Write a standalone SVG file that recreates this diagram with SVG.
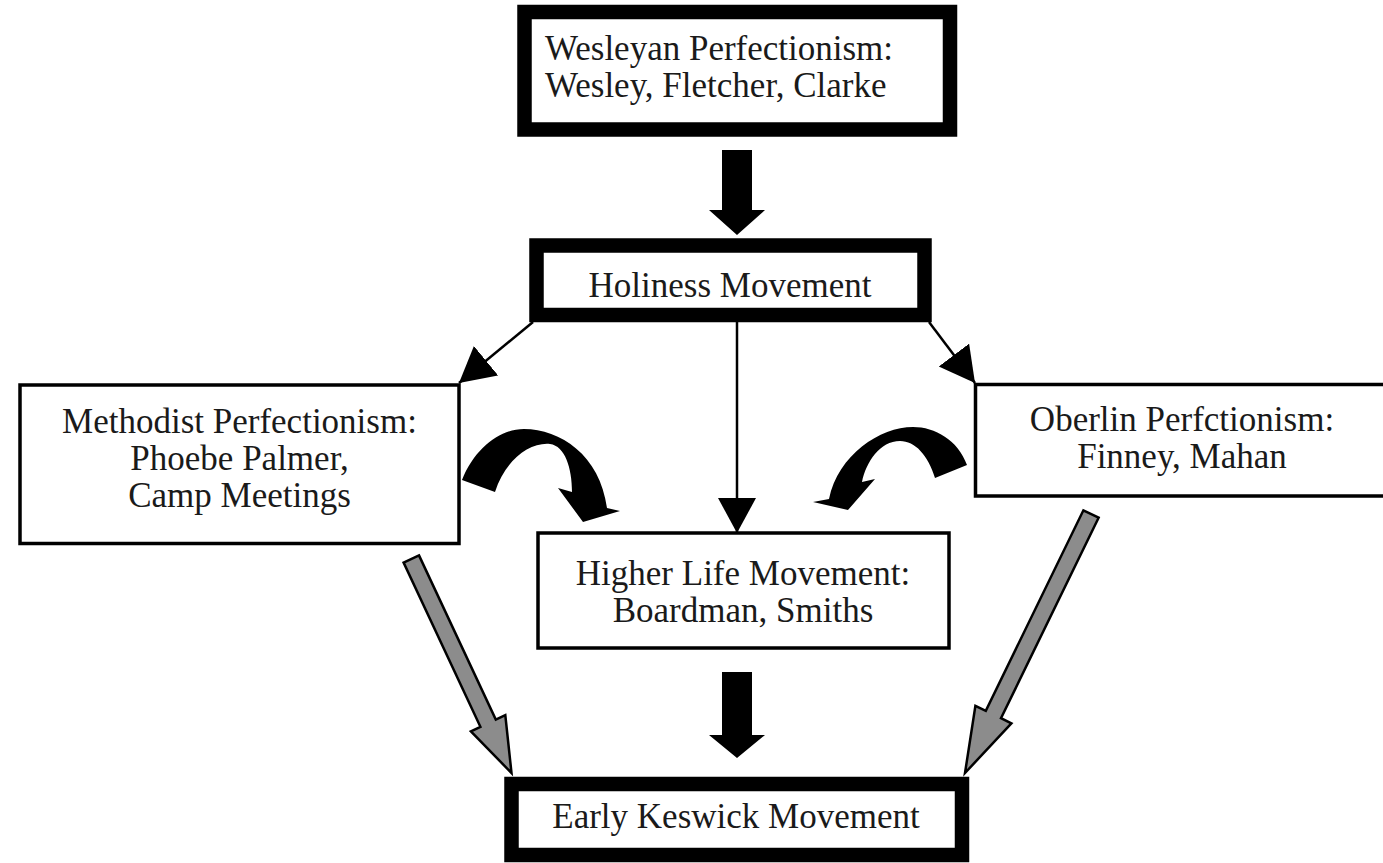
<svg xmlns="http://www.w3.org/2000/svg" width="1383" height="863" viewBox="0 0 1383 863">
  <defs>
    <style>
      .thick { fill: #fff; stroke: #000; stroke-width: 14.5; }
      .thin { fill: #fff; stroke: #000; stroke-width: 3.5; }
      .lbl { font-family: "Liberation Serif", "Times New Roman", serif; font-size: 35px; fill: #1a1a1a; }
      .mid { text-anchor: middle; }
      .conn { stroke: #000; stroke-width: 2.5; fill: none; }
      .blk { fill: #000; stroke: none; }
      .gray { fill: #8c8c8c; stroke: #000; stroke-width: 2.5; stroke-linejoin: miter; }
    </style>
    <marker id="tri" markerUnits="userSpaceOnUse" markerWidth="36" markerHeight="40" refX="35" refY="19" orient="auto" viewBox="0 0 36 40">
      <path d="M0,0 L35,19 L0,38 Z" fill="#000"/>
    </marker>
  </defs>
  <rect width="1383" height="863" fill="#fff"/>

  <g id="connectors">
    <!-- thin arrows from Holiness -->
    <line class="conn" x1="533" y1="322" x2="459" y2="383" marker-end="url(#tri)"/>
    <line class="conn" x1="737" y1="322" x2="737" y2="533" marker-end="url(#tri)"/>
    <line class="conn" x1="929" y1="322" x2="975" y2="383" marker-end="url(#tri)"/>
    <!-- block arrows -->
    <path class="blk" d="M722,150 L752,150 L752,210 L765,210 L737,235 L709,210 L722,210 Z"/>
    <path class="blk" d="M722,672 L752,672 L752,735 L765,735 L737,758 L709,735 L722,735 Z"/>
    <!-- curved arrows -->
    <path class="blk" d="M462,480 C475,448 500,429 524,429 C560,429 600,455 607,508 L620,511 L583,522 L558,488 L572,492 C572,468 565,446 550,444 C530,442 505,460 495,492 Z"/>
    <path class="blk" d="M967,465 C958,440 935,427 913,427 C880,427 838,455 829,499 L813,502 L848,510 L875,479 L862,482 C866,462 880,441 900,441 C915,441 928,455 935,478 Z"/>
    <!-- gray arrows -->
    <path class="gray" d="M419,555.4 L495.8,719.6 L505.3,715.1 L511.5,773 L470.9,731.3 L480.4,726.8 L403.6,562.6 Z"/>
    <path class="gray" d="M1098.6,517.7 L1001,718.2 L1011.4,723.3 L965,773 L975.4,705.8 L985.8,710.8 L1083.4,510.3 Z"/>
  </g>

  <g id="wesleyan">
    <rect class="thick" x="524.5" y="12" width="425.5" height="117.5"/>
    <text class="lbl" x="545" y="60">Wesleyan Perfectionism:</text>
    <text class="lbl" x="545" y="97">Wesley, Fletcher, Clarke</text>
  </g>

  <g id="holiness">
    <rect class="thick" x="536.5" y="245.5" width="388" height="69.5"/>
    <text class="lbl mid" x="730" y="297">Holiness Movement</text>
  </g>

  <g id="methodist">
    <rect class="thin" x="20" y="385" width="439" height="158.5"/>
    <text class="lbl mid" x="239.5" y="433">Methodist Perfectionism:</text>
    <text class="lbl mid" x="239.5" y="470">Phoebe Palmer,</text>
    <text class="lbl mid" x="239.5" y="507">Camp Meetings</text>
  </g>

  <g id="oberlin">
    <rect class="thin" x="975.5" y="384.5" width="415" height="111.5"/>
    <text class="lbl mid" x="1182" y="431">Oberlin Perfctionism:</text>
    <text class="lbl mid" x="1182" y="468">Finney, Mahan</text>
  </g>

  <g id="higherlife">
    <rect class="thin" x="538" y="533" width="411" height="115"/>
    <text class="lbl mid" x="743" y="585">Higher Life Movement:</text>
    <text class="lbl mid" x="743" y="622">Boardman, Smiths</text>
  </g>

  <g id="keswick">
    <rect class="thick" x="511.5" y="784" width="450.5" height="71"/>
    <text class="lbl mid" x="736" y="828">Early Keswick Movement</text>
  </g>
</svg>
